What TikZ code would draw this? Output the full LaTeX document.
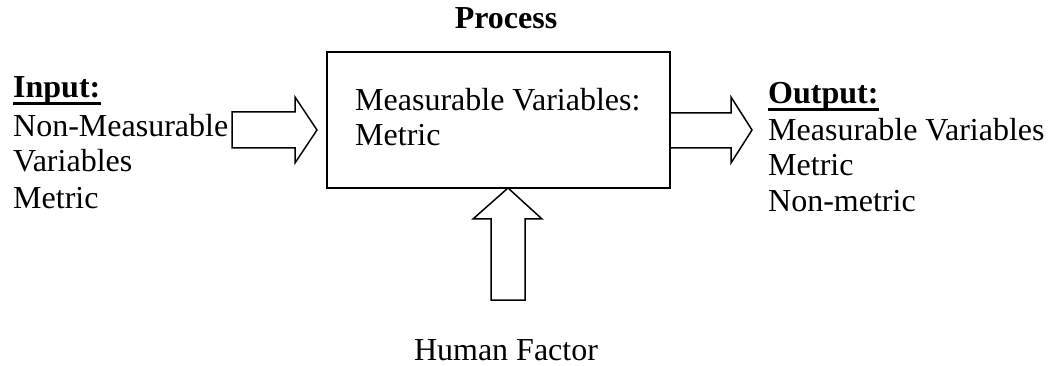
\documentclass[tikz,border=0pt]{standalone}
\usepackage{fontspec}
\setmainfont{Liberation Serif}
\usetikzlibrary{calc}
\begin{document}
\begin{tikzpicture}[x=1pt,y=-1pt,
  txt/.style={inner sep=0pt,anchor=base west,font=\fontsize{32}{36}\selectfont},
  ctxt/.style={inner sep=0pt,anchor=base,font=\fontsize{32}{36}\selectfont},
  ul/.style={line width=3pt},
  blockarrow/.style={draw=black,fill=white,line width=1.5pt,line join=miter},
  boxstyle/.style={draw=black,line width=1.5pt,inner sep=0pt}]
\useasboundingbox (0,0) rectangle (1052,366);
% process box
\node[boxstyle,minimum width=343pt,minimum height=136pt] (proc) at (498.5,120) {};
\node[ctxt,font=\fontsize{32}{36}\selectfont\bfseries] (ptitle) at (506,29) {Process};
\node[txt] (pm1) at (355,111) {Measurable Variables:};
\node[txt] (pm2) at (355,146) {Metric};
% input text
\node[txt,font=\fontsize{32}{36}\selectfont\bfseries] (in) at (13,98) {Input:};
\draw[ul] ($(in.base west)+(0,6)$) -- ($(in.base east)+(0,6)$);
\node[txt] (in1) at (13,137) {Non-Measurable};
\node[txt] (in2) at (13,172) {Variables};
\node[txt] (in3) at (13,208) {Metric};
% output text
\node[txt,font=\fontsize{32}{36}\selectfont\bfseries] (out) at (768,104) {Output:};
\draw[ul] ($(out.base west)+(0,6)$) -- ($(out.base east)+(0,6)$);
\node[txt] (out1) at (768,141) {Measurable Variables};
\node[txt] (out2) at (768,176) {Metric};
\node[txt] (out3) at (768,212) {Non-metric};
% human factor
\node[ctxt] (hf) at (506,360) {Human Factor};
% block arrows
\draw[blockarrow] (232,112) -- (295,112) -- (295,97) -- (317,130) -- (295,163) -- (295,148) -- (232,148) -- cycle;
\draw[blockarrow] (670,113) -- (731,113) -- (731,97) -- (752,130) -- (731,163) -- (731,148) -- (670,148) -- cycle;
\draw[blockarrow] (508,188) -- (542,219) -- (525,219) -- (525,300) -- (491,300) -- (491,219) -- (473,219) -- cycle;
\end{tikzpicture}
\end{document}
